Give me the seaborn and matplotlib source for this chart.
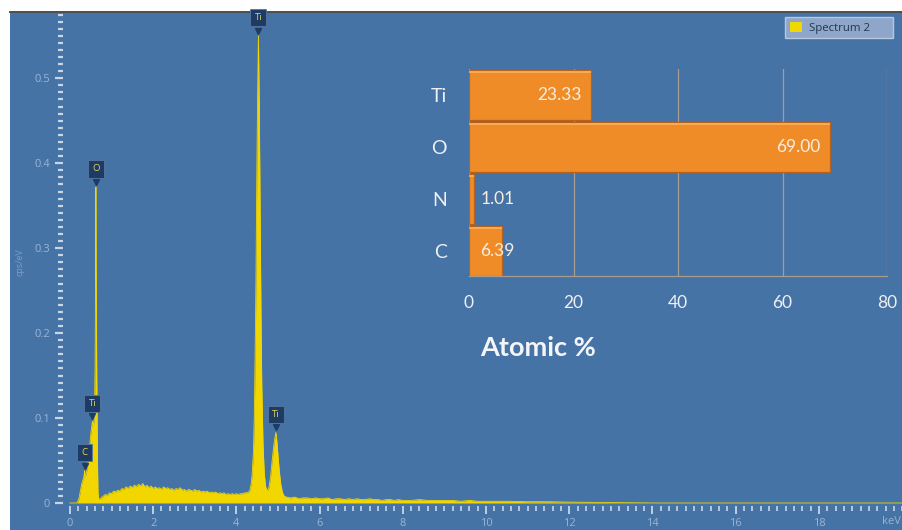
import numpy as np
import pandas as pd
import matplotlib
matplotlib.use("Agg")
import matplotlib.pyplot as plt
import matplotlib.ticker as mticker
import matplotlib.transforms as mtrans
from matplotlib.patches import Patch
import seaborn as sns

# ---- EDS spectrum (keV, cps/eV) ----
energy_low = [0.00, 0.16, 0.19, 0.22, 0.25, 0.28, 0.31, 0.33, 0.345, 0.355, 0.365,
              0.39, 0.42, 0.45, 0.48, 0.51, 0.54, 0.565, 0.59, 0.605, 0.615, 0.625,
              0.635, 0.645, 0.655, 0.665, 0.675, 0.69]
cps_low = [0.0, 0.0, 0.002, 0.006, 0.014, 0.022, 0.027, 0.030, 0.034, 0.038, 0.031,
           0.034, 0.042, 0.055, 0.070, 0.085, 0.096, 0.090, 0.105, 0.160, 0.250, 0.372,
           0.240, 0.150, 0.090, 0.040, 0.012, 0.005]

energy_cont = [0.70, 0.75, 0.80, 0.85, 0.90, 0.95, 1.00, 1.05, 1.10, 1.15, 1.20, 1.25,
               1.30, 1.35, 1.40, 1.45, 1.50, 1.55, 1.60, 1.65, 1.70, 1.75, 1.80, 1.85,
               1.90, 1.95, 2.00, 2.05, 2.10, 2.15, 2.20, 2.25, 2.30, 2.35, 2.40, 2.45,
               2.50, 2.55, 2.60, 2.65, 2.70, 2.75, 2.80, 2.85, 2.90, 2.95, 3.00, 3.05,
               3.10, 3.15, 3.20, 3.25, 3.30, 3.35, 3.40, 3.45, 3.50, 3.55, 3.60, 3.65,
               3.70, 3.75, 3.80, 3.85, 3.90, 3.95, 4.00, 4.05, 4.10, 4.15, 4.20, 4.25]
cps_cont = [0.004, 0.006, 0.008, 0.010, 0.009, 0.012, 0.011, 0.014, 0.013, 0.015, 0.014, 0.017,
            0.016, 0.019, 0.017, 0.020, 0.018, 0.021, 0.019, 0.022, 0.020, 0.023, 0.019, 0.021,
            0.018, 0.020, 0.017, 0.019, 0.017, 0.018, 0.016, 0.019, 0.017, 0.018, 0.016, 0.017,
            0.015, 0.017, 0.016, 0.018, 0.015, 0.016, 0.014, 0.016, 0.015, 0.014, 0.016, 0.014,
            0.015, 0.013, 0.014, 0.013, 0.014, 0.012, 0.013, 0.012, 0.013, 0.011, 0.012, 0.011,
            0.012, 0.010, 0.011, 0.010, 0.011, 0.010, 0.011, 0.010, 0.011, 0.011, 0.012, 0.012]

energy_tik = [4.30, 4.33, 4.36, 4.38, 4.41, 4.43, 4.45, 4.47, 4.49, 4.51, 4.53, 4.55,
              4.57, 4.59, 4.61, 4.64, 4.67, 4.70, 4.74, 4.78, 4.82, 4.86, 4.90, 4.93,
              4.95, 4.97, 5.00, 5.03, 5.07, 5.11, 5.15]
cps_tik = [0.013, 0.016, 0.024, 0.035, 0.060, 0.100, 0.170, 0.260, 0.380, 0.480, 0.550, 0.470,
           0.350, 0.230, 0.140, 0.070, 0.035, 0.020, 0.014, 0.018, 0.030, 0.050, 0.068, 0.078,
           0.083, 0.074, 0.056, 0.038, 0.021, 0.012, 0.008]

energy_tail = [5.2, 5.3, 5.4, 5.5, 5.6, 5.7, 5.8, 5.9, 6.0, 6.1, 6.2, 6.3, 6.4, 6.5, 6.6,
               6.7, 6.8, 6.9, 7.0, 7.1, 7.2, 7.3, 7.4, 7.5, 7.6, 7.7, 7.8, 7.9, 8.0, 8.2,
               8.4, 8.6, 8.8, 9.0, 9.2, 9.4, 9.6, 9.8, 10.0, 10.3, 10.6, 11.0, 11.5, 12.0,
               12.5, 13.0, 13.5, 14.0, 20.0]
cps_tail = [0.007, 0.006, 0.007, 0.005, 0.006, 0.006, 0.005, 0.006, 0.005, 0.005, 0.006,
            0.004, 0.005, 0.005, 0.004, 0.005, 0.004, 0.005, 0.004, 0.004, 0.005, 0.004,
            0.004, 0.003, 0.004, 0.004, 0.003, 0.004, 0.003, 0.003, 0.004, 0.003, 0.003,
            0.003, 0.003, 0.002, 0.003, 0.002, 0.002, 0.002, 0.002, 0.0015, 0.0015, 0.001,
            0.0008, 0.0005, 0.0003, 0.0, 0.0]

# peak markers: element and nominal line energy (keV)
peak_names = ["C", "Ti", "O", "Ti", "Ti"]
peak_energy = [0.355, 0.54, 0.625, 4.53, 4.95]

# ---- quantification (atomic %) ----
elements = ["Ti", "O", "N", "C"]
atomic_pct = [23.33, 69.00, 1.01, 6.39]
inset_xticks = [0, 20, 40, 60, 80]

BG = "#4673A5"
YELLOW = "#F2D600"
ORANGE = "#F08C28"
W, H = 903, 530
SANS = ["Open Sans", "DejaVu Sans"]
HUMAN = ["Lato", "DejaVu Sans"]

spec = pd.DataFrame({
    "energy": energy_low + energy_cont + energy_tik + energy_tail,
    "cps": cps_low + cps_cont + cps_tik + cps_tail,
})

fig = plt.figure(figsize=(W / 100, H / 100), dpi=100, facecolor="white")
ax = fig.add_axes([10 / W, 0, 893 / W, 518 / H], facecolor=BG)

ax.fill_between(spec["energy"], spec["cps"], 0, color=YELLOW, lw=0, zorder=2)
sns.lineplot(data=spec, x="energy", y="cps", ax=ax, color=YELLOW, lw=0.6,
             estimator=None, sort=True, zorder=3)

ax.set_xlim(-1.44, 20.02)
ax.set_ylim(-0.0318, 0.578)

for side in ["left", "right", "bottom"]:
    ax.spines[side].set_color("none")
ax.spines["top"].set_color("#4d4d4d")
ax.spines["top"].set_linewidth(1.4)
ax.spines["left"].set_position(("data", -0.17))
ax.spines["bottom"].set_position(("data", -0.003))

ax.set_xticks(np.arange(0, 19, 2))
ax.xaxis.set_minor_locator(mticker.FixedLocator(np.arange(0, 20.01, 0.2)))
ax.set_yticks([0, 0.1, 0.2, 0.3, 0.4, 0.5])
ax.yaxis.set_minor_locator(mticker.FixedLocator(np.arange(0, 0.578, 0.1 / 12)))
ax.yaxis.set_major_formatter(mticker.FuncFormatter(lambda v, p: f"{v:g}"))
ax.tick_params(axis="both", which="both", color="#C8D6EA", labelcolor="#9BB4D6",
               labelsize=8)
ax.tick_params(axis="x", which="major", length=6, width=1.3, pad=3)
ax.tick_params(axis="x", which="minor", length=3.5, width=1.2)
ax.tick_params(axis="y", which="major", length=6, width=1.6, pad=3)
ax.tick_params(axis="y", which="minor", length=3.5, width=1.6)
for lab in ax.get_xticklabels() + ax.get_yticklabels():
    lab.set_family(SANS)
ax.set_xlabel("")
ax.set_ylabel("")
fig.text(901 / W, 1 - 521 / H, "keV", color="#9BB4D6", fontsize=8, ha="right",
         va="center", family=SANS)
fig.text(20 / W, 1 - 262 / H, "cps/eV", rotation=90, color="#7E9CC6", fontsize=6.5,
         ha="center", va="center", family=SANS)

# peak labels sit on the tip of each identified line
pointer = mtrans.offset_copy(ax.transData, fig=fig, x=0, y=5, units="dots")
for name, e in zip(peak_names, peak_energy):
    near = spec[(spec["energy"] - e).abs() <= 0.021]
    h = near["cps"].max()
    ax.plot([e], [h], marker="v", ms=5, color="#1E3B63", transform=pointer,
            zorder=5, clip_on=False)
    ax.annotate(name, xy=(e, h), xytext=(0, 13), textcoords="offset points",
                ha="center", va="center", fontsize=6.8, color="#E4D45C",
                family=SANS, zorder=6, annotation_clip=False,
                bbox=dict(boxstyle="square,pad=0.45", fc="#1E3B63", ec="#5878A2", lw=0.6))

ax.legend(handles=[Patch(facecolor=YELLOW, edgecolor="none")], labels=["Spectrum 2"],
          loc="upper left", mode="expand",
          bbox_to_anchor=(785 / W, 1 - 42 / H, 108 / W, 25 / H),
          bbox_transform=fig.transFigure, borderaxespad=0, fancybox=False,
          facecolor="#8DA6C9", edgecolor="#B7C7DD", framealpha=1,
          handlelength=1.1, handleheight=1.1, handletextpad=0.6,
          borderpad=0.4, prop={"family": SANS, "size": 8.2})
for t in ax.get_legend().get_texts():
    t.set_color("#263650")

# ---- inset: atomic % bars ----
ax2 = fig.add_axes([469 / W, 1 - 276 / H, 418 / W, 207 / H], facecolor="none")
quant = pd.DataFrame({"element": elements, "pct": atomic_pct})
sns.barplot(data=quant, x="pct", y="element", orient="h", color=ORANGE, saturation=1,
            width=0.96, edgecolor="#B5631E", linewidth=0.9, ax=ax2, zorder=3)
# soft highlight along the top edge of each bar
ax2.barh(np.arange(len(elements)) - 0.44, atomic_pct, height=0.05, left=0,
         color="#F9B460", lw=0, alpha=0.8, zorder=4)

ax2.set_xlim(0, 80)
ax2.set_ylim(3.48, -0.5)
ax2.set_xticks(inset_xticks)
ax2.grid(axis="x", color="#A99C8C", lw=0.9, zorder=0)
ax2.grid(axis="y", visible=False)
ax2.set_axisbelow(True)
for side in ["left", "right", "top"]:
    ax2.spines[side].set_visible(False)
ax2.spines["bottom"].set_color("#A99C8C")
ax2.spines["bottom"].set_linewidth(0.9)
ax2.tick_params(axis="both", length=0, labelcolor="#EEF0F4", labelsize=12.5)
ax2.tick_params(axis="x", pad=14)
ax2.tick_params(axis="y", pad=16, labelsize=14)
for lab in ax2.get_xticklabels() + ax2.get_yticklabels():
    lab.set_family(HUMAN)
ax2.set_xlabel("")
ax2.set_ylabel("")

for i, v in enumerate(atomic_pct):
    if v > 15:
        ax2.text(v - 1.8, i, f"{v:.2f}", ha="right", va="center", color="#F7EDE2",
                 fontsize=12.5, family=HUMAN, zorder=5)
    else:
        ax2.text(2.2, i, f"{v:.2f}", ha="left", va="center", color="#F7EDE2",
                 fontsize=12.5, family=HUMAN, zorder=5)

fig.text(480 / W, 1 - 348 / H, "Atomic %", ha="left", va="center", color="#F4F5F8",
         fontsize=19.5, fontweight="bold", family=HUMAN)

fig.savefig("out.png", dpi=100, facecolor="white")
